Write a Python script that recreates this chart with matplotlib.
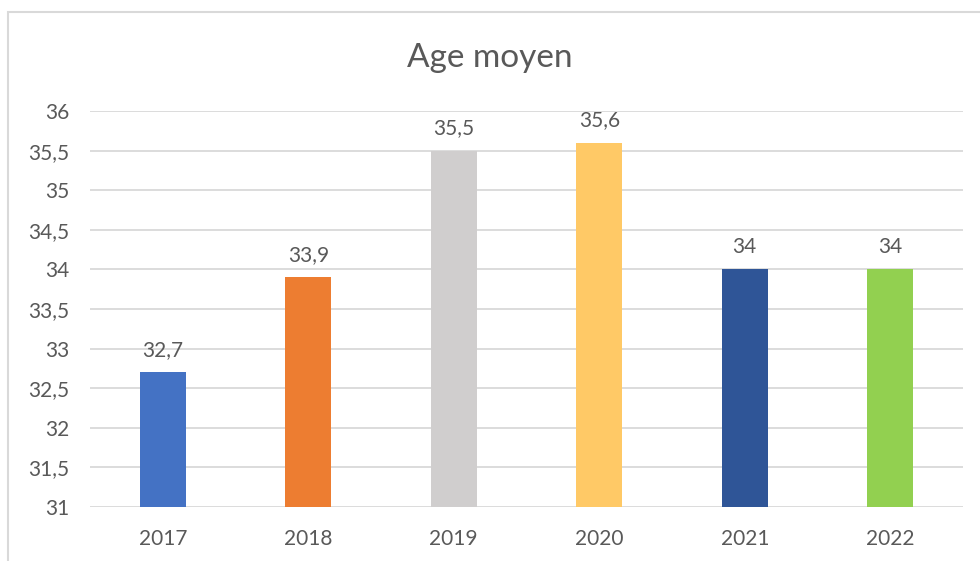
import matplotlib
matplotlib.use("Agg")
import matplotlib.pyplot as plt
from matplotlib.patches import Rectangle

# Data
years = ["2017", "2018", "2019", "2020", "2021", "2022"]
ages = [32.7, 33.9, 35.5, 35.6, 34, 34]
labels = ["32,7", "33,9", "35,5", "35,6", "34", "34"]
colors = ["#4472C4", "#ED7D31", "#D0CECE", "#FFC966", "#2F5597", "#92D050"]
yticks = [31, 31.5, 32, 32.5, 33, 33.5, 34, 34.5, 35, 35.5, 36]
ytick_labels = ["31", "31,5", "32", "32,5", "33", "33,5", "34", "34,5", "35", "35,5", "36"]

plt.rcParams['font.family'] = ['Lato', 'DejaVu Sans']
text_color = "#595959"

fig = plt.figure(figsize=(9.8, 5.61), dpi=100)
ax = fig.add_axes([90 / 980, 1 - 507 / 561, (963 - 90) / 980, (507 - 111) / 561])

x = range(len(years))
ax.bar(x, ages, width=0.316, color=colors, zorder=3, bottom=0)
ax.set_ylim(31, 36)
ax.set_xlim(-0.5, len(years) - 0.5)

for xi, v, lab in zip(x, ages, labels):
    ax.annotate(lab, (xi, v), xytext=(0, 9), textcoords="offset points",
                ha="center", va="bottom", fontsize=15, color=text_color)

ax.set_yticks(yticks)
ax.set_yticklabels(ytick_labels)
ax.set_xticks(list(x))
ax.set_xticklabels(years)
ax.tick_params(axis="both", length=0, labelsize=15, labelcolor=text_color)
ax.tick_params(axis="y", pad=15)
ax.tick_params(axis="x", pad=16)
ax.grid(axis="y", color="#D9D9D9", linewidth=1.3, zorder=0)
for s in ax.spines.values():
    s.set_visible(False)

fig.text(0.5, 1 - 58 / 561, "Age moyen", ha="center", va="center",
         fontsize=24, color=text_color)

# chart border
fig.add_artist(Rectangle((8 / 980, -0.1), 1.2, 1 - 12 / 561 + 0.1,
                         transform=fig.transFigure, fill=False,
                         edgecolor="#D9D9D9", linewidth=1.5))

fig.savefig("out.png", dpi=100)
